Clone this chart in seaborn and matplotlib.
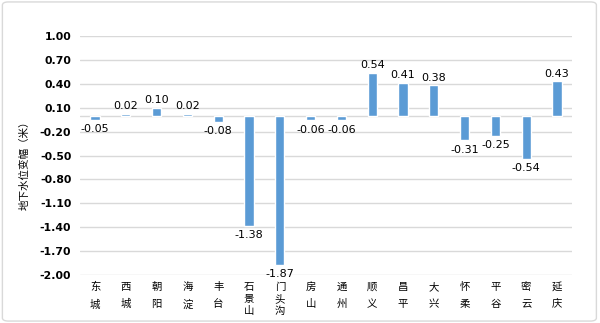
import matplotlib
matplotlib.use("Agg")
import matplotlib.pyplot as plt
import seaborn as sns
import pandas as pd
from matplotlib.patches import FancyBboxPatch

districts = ["东城", "西城", "朝阳", "海淀", "丰台", "石景山", "门头沟", "房山",
             "通州", "顺义", "昌平", "大兴", "怀柔", "平谷", "密云", "延庆"]
changes = [-0.05, 0.02, 0.10, 0.02, -0.08, -1.38, -1.87, -0.06,
           -0.06, 0.54, 0.41, 0.38, -0.31, -0.25, -0.54, 0.43]
yticks = [1.00, 0.70, 0.40, 0.10, -0.20, -0.50, -0.80, -1.10, -1.40, -1.70, -2.00]
ylabel = "地下水位变幅（米）"

sns.set_theme(style="white")
plt.rcParams['font.family'] = ['Noto Sans CJK SC', 'DejaVu Sans']

df = pd.DataFrame({"district": districts, "change": changes})

fig = plt.figure(figsize=(6.0, 3.23), dpi=100)
ax = fig.add_axes([0.1327, 0.1486, 0.8213, 0.7399])

sns.barplot(data=df, x="district", y="change", color="#5B9BD5",
            saturation=1, width=0.30, ax=ax, zorder=3)

ax.set_ylim(-2.0, 1.0)
ax.set_xlim(-0.5, len(districts) - 0.5)
ax.set_yticks(yticks)
ax.set_yticklabels([f"{t:.2f}" for t in yticks], family="DejaVu Sans",
                   fontweight="bold", fontsize=7.8, color="#000000")
for t in yticks:
    ax.axhline(t, color="#D9D9D9", lw=1.0, zorder=1)
ax.axhline(0, color="#D9D9D9", lw=1.0, zorder=2)
for s in ax.spines.values():
    s.set_visible(False)
ax.tick_params(axis="y", length=0, pad=6)
ax.tick_params(axis="x", length=0, pad=5)

labels = ["\n".join(list(d)) for d in districts]
ax.set_xticks(range(len(districts)))
ax.set_xticklabels(labels, fontsize=7.5, color="#000000")
for lab, d in zip(ax.get_xticklabels(), districts):
    lab.set_linespacing(1.25 if len(d) == 3 else 1.85)

ax.set_xlabel("")
ax.set_ylabel(ylabel, fontsize=7.6, color="#000000")
ax.yaxis.set_label_coords(-0.101, 0.469)

for i, v in enumerate(changes):
    if v >= 0:
        ax.annotate(f"{v:.2f}", (i, v), xytext=(0, 2), textcoords="offset points",
                    ha="center", va="bottom", fontsize=8, family="DejaVu Sans",
                    color="#000000")
    else:
        ax.annotate(f"{v:.2f}", (i, v), xytext=(0, -3), textcoords="offset points",
                    ha="center", va="top", fontsize=8, family="DejaVu Sans",
                    color="#000000")

border = FancyBboxPatch((0.004, 0.006), 0.99, 0.988, boxstyle="round,pad=0,rounding_size=0.01",
                        transform=fig.transFigure, fill=False, edgecolor="#D9D9D9", lw=1.0)
fig.patches.append(border)

fig.savefig("out.png", dpi=100)
